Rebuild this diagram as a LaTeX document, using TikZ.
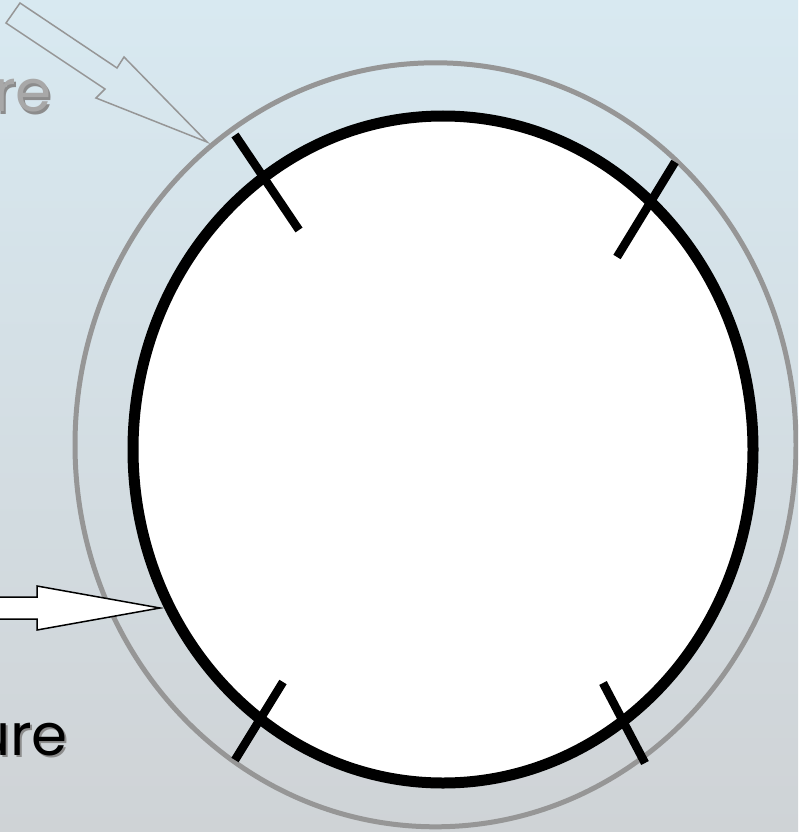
\documentclass[tikz,border=0pt]{standalone}
\usepackage{fontspec}
\setmainfont{Poppins}
\usetikzlibrary{shapes.geometric}
\definecolor{bgtop}{RGB}{216,233,241}
\definecolor{bgbot}{RGB}{207,211,214}
\definecolor{ringgray}{RGB}{150,150,150}
\definecolor{txtgray}{RGB}{168,168,168}
\definecolor{shgray}{RGB}{140,140,140}
\begin{document}
\begin{tikzpicture}[x=1pt,y=-1pt,
  outerring/.style={ellipse,draw=ringgray,line width=5pt,inner sep=0pt},
  innerring/.style={ellipse,draw=black,fill=white,line width=11pt,inner sep=0pt},
  tickmark/.style={draw=black,line width=8.5pt},
  hollowarrow/.style={draw=ringgray,line width=1.5pt,line join=miter},
  whitearrow/.style={draw=black,fill=white,line width=1.5pt,line join=miter},
  bigtext/.style={font=\fontsize{58}{60}\selectfont,inner sep=0pt,anchor=base east}]
\clip (0,0) rectangle (798,832);
\shade[top color=bgtop,bottom color=bgbot] (0,0) rectangle (798,832);
% rings
\node[outerring,minimum width=721pt,minimum height=764pt] (outer) at (435.5,444.8) {};
\node[innerring,minimum width=620pt,minimum height=667pt] (inner) at (443,449.5) {};
% tick marks
\coordinate (t1a) at (235,135); \coordinate (t1b) at (299,230);
\coordinate (t2a) at (675,162); \coordinate (t2b) at (617,257);
\coordinate (t3a) at (283,682); \coordinate (t3b) at (235,760);
\coordinate (t4a) at (603,683); \coordinate (t4b) at (645,763);
\draw[tickmark] (t1a) -- (t1b);
\draw[tickmark] (t2a) -- (t2b);
\draw[tickmark] (t3a) -- (t3b);
\draw[tickmark] (t4a) -- (t4b);
% top hollow arrow
\coordinate (a1) at (20,3); \coordinate (a2) at (117,68); \coordinate (a3) at (124,57);
\coordinate (atip) at (207,142);
\coordinate (a5) at (96,98); \coordinate (a6) at (105,89); \coordinate (a7) at (6,23);
\draw[hollowarrow] (a1) -- (a2) -- (a3) -- (atip) -- (a5) -- (a6) -- (a7) -- cycle;
% bottom white arrow
\coordinate (b1) at (-5,597); \coordinate (b2) at (37,597); \coordinate (b3) at (37,586);
\coordinate (btip) at (160,608);
\coordinate (b5) at (37,630); \coordinate (b6) at (37,619); \coordinate (b7) at (-5,619);
\draw[whitearrow] (b1) -- (b2) -- (b3) -- (btip) -- (b5) -- (b6) -- (b7) -- cycle;
% texts
\node[bigtext,text=shgray] (reshadow) at (54,114) {re};
\node[bigtext,text=txtgray] (retext) at (52,112) {re};
\node[bigtext,text=shgray] (ureshadow) at (70,757) {ure};
\node[bigtext,text=black] (uretext) at (68,755) {ure};
\end{tikzpicture}
\end{document}
